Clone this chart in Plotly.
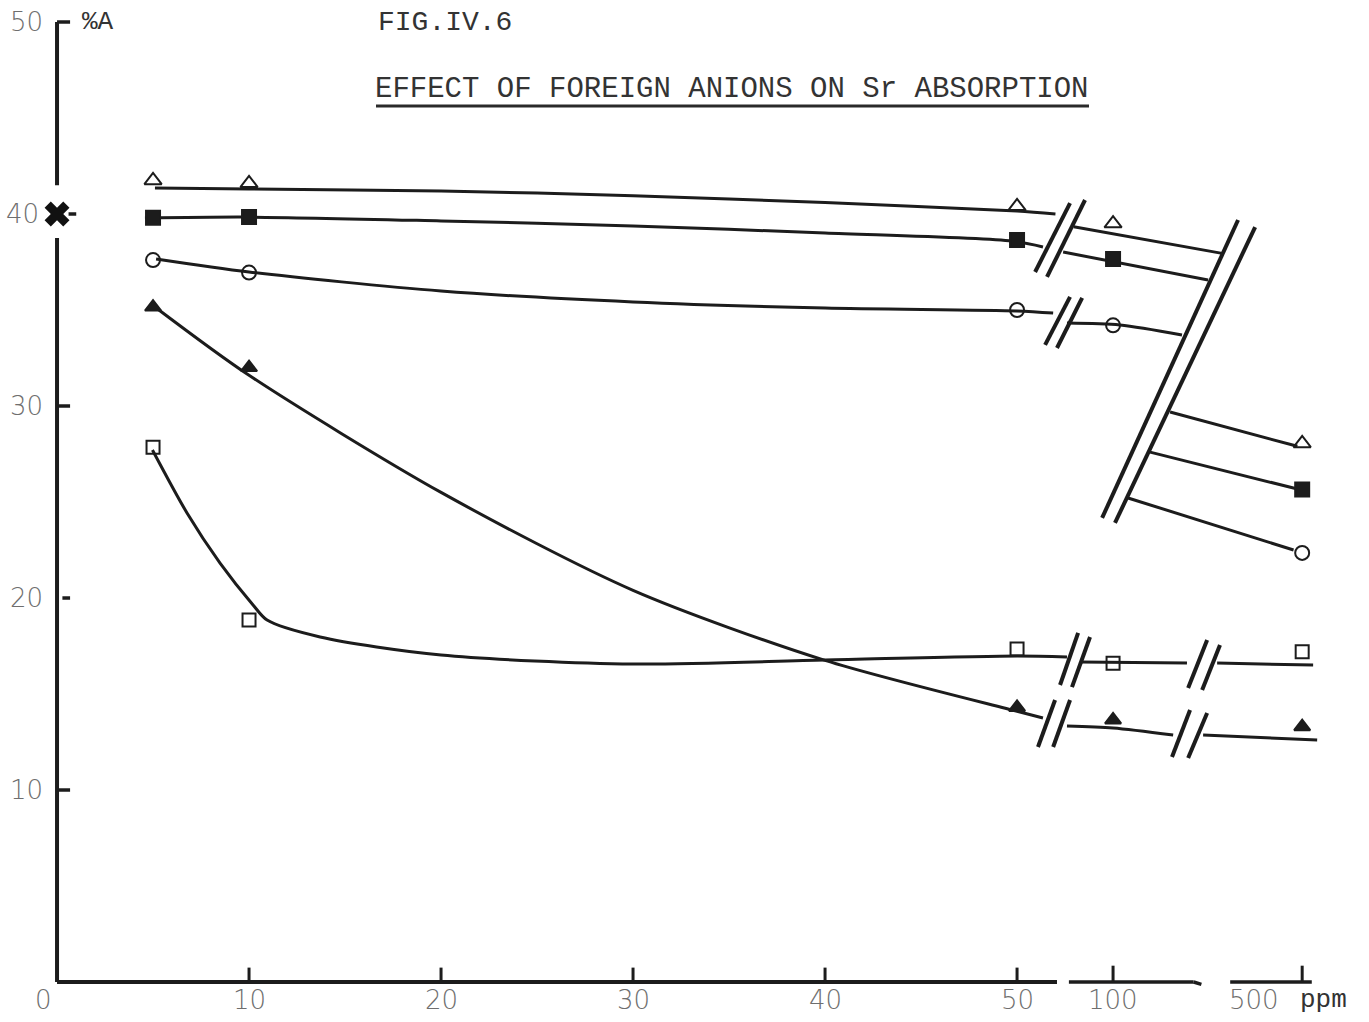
import plotly.graph_objects as go

# ---------------------------------------------------------------------------
# Data: Sr absorption (%A) against concentration of the foreign anion (ppm).
# The x axis is linear in ppm up to 50; the 100 and 500 ppm readings are
# placed on two broken-off stubs of the axis further to the right.
# ---------------------------------------------------------------------------
POS_100 = 55.0
POS_500 = 64.85

conc_ppm = [5, 10, 50, 100, 500]
conc_pos = [5, 10, 50, POS_100, POS_500]

open_tri_y = [41.75, 41.6, 40.4, 39.5, 28.05]
filled_sq_y = [39.8, 39.85, 38.65, 37.65, 25.65]
open_circ_y = [37.6, 36.95, 35.0, 34.2, 22.35]
filled_tri_y = [35.15, 32.0, 14.3, 13.65, 13.3]
open_sq_y = [27.85, 18.85, 17.35, 16.6, 17.2]

# Hand-fitted curves, each one split into the pieces between axis breaks.
open_tri_curve = [
    ([5.1, 10, 20, 30, 40, 50, 52.0], [41.35, 41.3, 41.2, 40.95, 40.6, 40.15, 40.0]),
    ([52.95, 60.68], [39.34, 37.95]),
    ([57.97, 64.6], [29.69, 27.9]),
]
filled_sq_curve = [
    ([4.58, 9.84, 20, 30, 40, 49.74, 51.35], [39.79, 39.84, 39.64, 39.38, 39.01, 38.59, 38.28]),
    ([52.4, 59.95], [38.02, 36.56]),
    ([56.93, 64.5], [27.6, 25.7]),
]
open_circ_curve = [
    ([5.16, 10, 20, 30, 40, 50, 51.88], [37.66, 36.98, 35.99, 35.42, 35.1, 34.95, 34.84]),
    ([52.6, 55.36, 58.59], [34.32, 34.22, 33.7]),
    ([55.78, 64.4], [25.21, 22.5]),
]
filled_tri_curve = [
    ([5.1, 10, 20, 30, 40, 50, 51.35],
     [35.16, 31.6, 25.5, 20.4, 16.75, 14.1, 13.75]),
    ([52.6, 55, 58.13], [13.33, 13.23, 12.86]),
    ([59.69, 65.63], [12.86, 12.6]),
]
open_sq_curve = [
    ([4.97, 6.77, 8.49, 10.21, 10.94, 13.7, 20, 30, 40, 50, 52.6],
     [27.71, 24.43, 21.82, 19.64, 18.85, 17.97, 17.03, 16.56, 16.77, 16.98, 16.93]),
    ([53.28, 58.85], [16.67, 16.61]),
    ([60.42, 65.42], [16.61, 16.51]),
]

x_tick_vals = [0, 10, 20, 30, 40, 50, POS_100, POS_500]
x_tick_text = ["0", "10", "20", "30", "40", "50", "100", "500"]
y_tick_vals = [10, 20, 30, 40, 50]
y_tick_text = ["10", "20", "30", "40", "50"]

# ---------------------------------------------------------------------------
INK = "#1c1c1c"
LABEL_GREY = "#6e6e6e"
TYPE_FONT = "Liberation Mono"
NUM_FONT = "DejaVu Sans"

fig = go.Figure()

series = [
    (open_tri_curve, open_tri_y, "triangle-up-open", 15),
    (filled_sq_curve, filled_sq_y, "square", 14),
    (open_circ_curve, open_circ_y, "circle-open", 14),
    (filled_tri_curve, filled_tri_y, "triangle-up", 14),
    (open_sq_curve, open_sq_y, "square-open", 13),
]

for curve, ys, symbol, size in series:
    for cx, cy in curve:
        fig.add_trace(go.Scatter(
            x=cx, y=cy, mode="lines",
            line=dict(color=INK, width=3, shape="spline", smoothing=0.8),
            hoverinfo="skip", showlegend=False,
        ))
    fig.add_trace(go.Scatter(
        x=conc_pos, y=ys, mode="markers",
        marker=dict(symbol=symbol, size=size, color=INK,
                    line=dict(color=INK, width=2)),
        text=[f"{c} ppm" for c in conc_ppm],
        showlegend=False, cliponaxis=False,
    ))

# Bold cross marking 40 %A on the ordinate
fig.add_trace(go.Scatter(
    x=[0], y=[40], mode="markers",
    marker=dict(symbol="x", size=22, color="#111111", line=dict(width=0)),
    hoverinfo="skip", showlegend=False, cliponaxis=False,
))

shapes = []


def seg(x0, y0, x1, y1, width=3.5, color=INK):
    shapes.append(dict(type="line", xref="x", yref="y", x0=x0, y0=y0,
                       x1=x1, y1=y1, line=dict(color=color, width=width)))


# Ordinate, interrupted around the 40 % cross
seg(0, 0, 0, 38.75, 4)
seg(0, 41.5, 0, 50, 4)
for yv in (10, 30, 50):
    seg(0, yv, 0.68, yv, 3.5)
seg(0.28, 20, 0.68, 20, 3.5)
seg(0.6, 40, 1.0, 40, 3.5)

# Abscissa in three pieces
seg(0, 0, 52.08, 0, 4)
seg(52.7, 0, 59.2, 0, 3.5)
seg(59.2, 0, 59.6, -0.12, 3.5)
seg(61.1, 0, 65.35, 0, 3.5)
for xv in (10, 20, 30, 40, 50):
    seg(xv, 0, xv, 0.75, 3)
seg(POS_100, 0, POS_100, 0.85, 3)
seg(POS_500, 0, POS_500, 0.85, 3)

# Break marks (//) on the curves
breaks = [
    ((50.94, 36.98, 52.76, 40.57), (51.56, 36.72, 53.54, 40.73)),
    ((51.46, 33.18, 52.76, 35.68), (52.08, 33.02, 53.39, 35.63)),
    ((54.43, 24.17, 61.51, 39.69), (55.10, 23.91, 62.40, 39.32)),
    ((52.24, 15.47, 53.18, 18.18), (52.86, 15.36, 53.80, 17.97)),
    ((58.91, 15.31, 59.90, 17.81), (59.64, 15.21, 60.57, 17.55)),
    ((51.09, 12.24, 51.98, 14.69), (51.88, 12.24, 52.76, 14.69)),
    ((58.07, 11.72, 59.01, 14.17), (58.91, 11.67, 59.90, 14.01)),
]
for pair in breaks:
    for x0, y0, x1, y1 in pair:
        seg(x0, y0, x1, y1, 4)

# Underline of the title
shapes.append(dict(type="line", xref="paper", yref="paper",
                   x0=376 / 1369, x1=1089 / 1369, y0=1 - 106 / 1022, y1=1 - 106 / 1022,
                   line=dict(color="#2a2a2a", width=3)))

annotations = []

# Numeric tick labels
x_label_shift = {"0": -14, "500": -48}
for xv, txt in zip(x_tick_vals, x_tick_text):
    annotations.append(dict(
        x=xv, y=-0.95, xref="x", yref="y", text=txt, showarrow=False,
        xshift=x_label_shift.get(txt, 0), yanchor="middle",
        font=dict(family=NUM_FONT, size=26, color=LABEL_GREY, weight=300),
    ))
for yv, txt in zip(y_tick_vals, y_tick_text):
    annotations.append(dict(
        x=0, y=yv, xref="x", yref="y", text=txt, showarrow=False,
        xanchor="right", yanchor="middle", xshift=-12 if yv != 40 else -16,
        font=dict(family=NUM_FONT, size=26, color=LABEL_GREY, weight=300),
    ))

# Axis units
annotations.append(dict(x=1.2, y=50, xref="x", yref="y", text="%A", showarrow=False,
                        xanchor="left", yanchor="middle",
                        font=dict(family=TYPE_FONT, size=26, color="#333333")))
annotations.append(dict(x=POS_500, y=-0.95, xref="x", yref="y", text="ppm", showarrow=False,
                        xanchor="left", yanchor="middle", xshift=-4,
                        font=dict(family=TYPE_FONT, size=26, color="#333333")))

# Figure number and title
annotations.append(dict(x=376 / 1369, y=1 - 22 / 1022, xref="paper", yref="paper",
                        text="FIG.IV.6", showarrow=False, xanchor="left", yanchor="middle",
                        font=dict(family=TYPE_FONT, size=28, color="#333333")))
annotations.append(dict(x=732 / 1369, y=1 - 90 / 1022, xref="paper", yref="paper",
                        text="EFFECT OF FOREIGN ANIONS ON Sr ABSORPTION", showarrow=False,
                        xanchor="center", yanchor="middle",
                        font=dict(family=TYPE_FONT, size=29, color="#333333")))

fig.update_layout(
    width=1369, height=1022,
    margin=dict(l=0, r=0, t=0, b=0),
    paper_bgcolor="white", plot_bgcolor="white",
    xaxis=dict(range=[-2.97, 68.33], visible=False, fixedrange=True),
    yaxis=dict(range=[-2.083, 51.146], visible=False, fixedrange=True),
    shapes=shapes, annotations=annotations,
    showlegend=False,
)

fig.write_html("out.html")
